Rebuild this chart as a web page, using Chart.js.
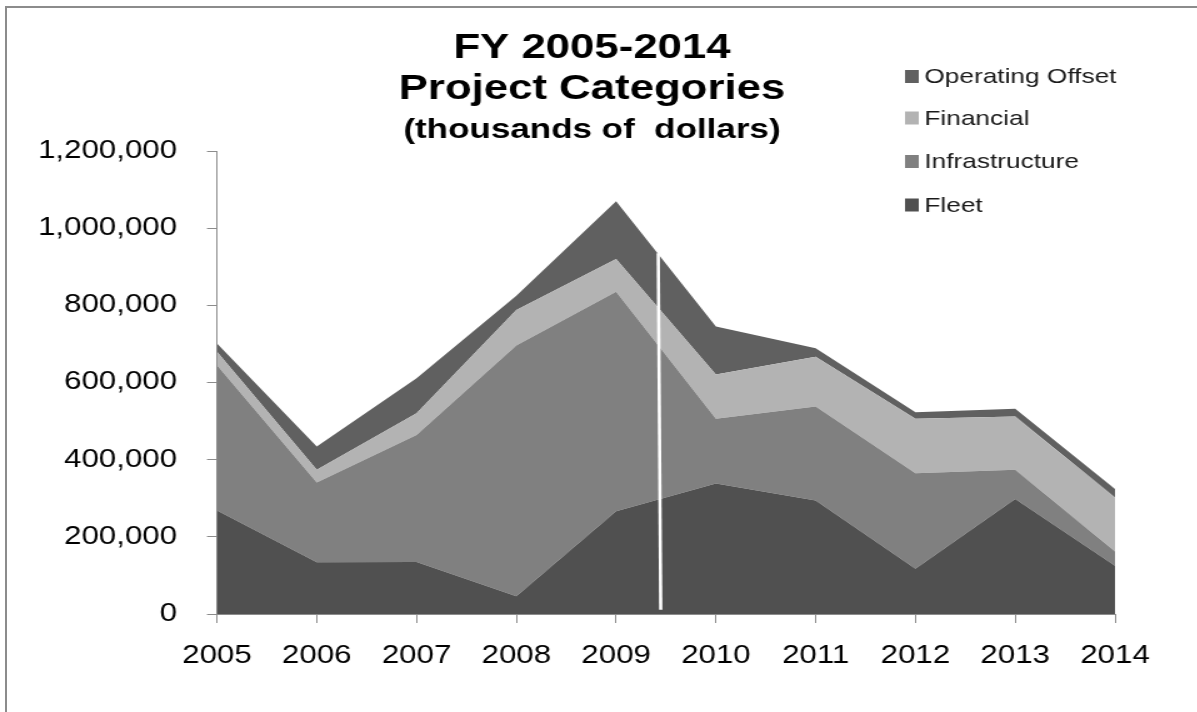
<!DOCTYPE html>
<html>
<head>
<meta charset="utf-8">
<script src="https://cdn.jsdelivr.net/npm/chart.js@4.4.1/dist/chart.umd.min.js"></script>
<style>
  html, body { margin: 0; padding: 0; background: #fff; overflow: hidden; }
  #frame { position: absolute; left: 5px; top: 6px; width: 1300px; height: 800px;
           border-left: 2px solid #8c8c8c; border-top: 2px solid #8c8c8c; }
  /* the whole chart is drawn narrow and widened 1.25x */
  #wrap { position: absolute; left: 0; top: 0; width: 958px; height: 712px;
          transform: scaleX(1.25); transform-origin: 0 0; }
</style>
</head>
<body>
<div id="frame"></div>
<div id="wrap"><canvas id="projChart" width="958" height="712"></canvas></div>
<script>
const years = ['2005', '2006', '2007', '2008', '2009', '2010', '2011', '2012', '2013', '2014'];

// thousands of dollars
const fleet          = [268000, 134000, 135000,  46000, 266000, 338000, 294000, 117000, 298000, 125000];
const infrastructure = [377000, 207000, 329000, 650000, 569000, 168000, 244000, 248000,  76000,  37000];
const financial      = [ 35000,  33000,  56000,  92000,  85000, 115000, 129000, 141000, 138000, 140000];
const operatingOffset = [21000,  60000,  91000,  37000, 150000, 124000,  22000,  17000,  20000,  22000];

const yTicks = [0, 200000, 400000, 600000, 800000, 1000000, 1200000];

// white marker line (category index, value) top -> bottom
const markerX = [4.422, 4.447];
const markerY = [935000, 11000];

const titleLines = ['FY 2005-2014', 'Project Categories'];
const subTitle = '(thousands of  dollars)';

const FONT = '"Liberation Sans", Arial, Helvetica, sans-serif';

const series = [
  { label: 'Fleet', data: fleet, color: '#505050' },
  { label: 'Infrastructure', data: infrastructure, color: '#808080' },
  { label: 'Financial', data: financial, color: '#b3b3b3' },
  { label: 'Operating Offset', data: operatingOffset, color: '#606060' }
];

const markerPlugin = {
  id: 'marker',
  afterDatasetsDraw(chart) {
    const { ctx, scales: { x, y } } = chart;
    ctx.save();
    ctx.strokeStyle = '#ffffff';
    ctx.lineWidth = 2.6;
    ctx.beginPath();
    ctx.moveTo(x.getPixelForValue(markerX[0]), y.getPixelForValue(markerY[0]));
    ctx.lineTo(x.getPixelForValue(markerX[1]), y.getPixelForValue(markerY[1]));
    ctx.stroke();
    ctx.restore();
  }
};

// titles and the legend on the right, Operating Offset on top
const labelsPlugin = {
  id: 'labels',
  afterDraw(chart) {
    const ctx = chart.ctx;
    ctx.save();
    ctx.fillStyle = '#000';
    ctx.textAlign = 'center';
    ctx.textBaseline = 'alphabetic';
    ctx.font = 'bold 35px ' + FONT;
    ctx.fillText(titleLines[0], 473.6, 58);
    ctx.fillText(titleLines[1], 473.6, 99);
    ctx.font = 'bold 28px ' + FONT;
    ctx.fillText(subTitle, 473.6, 138);

    const rows = [76.5, 118, 161.5, 205];
    const order = [3, 2, 1, 0];
    ctx.font = '21px ' + FONT;
    ctx.textAlign = 'left';
    ctx.textBaseline = 'middle';
    order.forEach((di, i) => {
      const ds = chart.data.datasets[di];
      ctx.fillStyle = ds.backgroundColor;
      ctx.fillRect(724, rows[i] - 6.5, 11, 13);
      ctx.fillStyle = '#1a1a1a';
      ctx.fillText(ds.label, 739.5, rows[i] + 1);
    });
    ctx.restore();
  }
};

new Chart(document.getElementById('projChart').getContext('2d'), {
  type: 'line',
  data: {
    labels: years,
    datasets: series.map((s, i) => ({
      label: s.label,
      data: s.data,
      backgroundColor: s.color,
      borderColor: 'rgba(0,0,0,0)',
      borderWidth: 0,
      pointRadius: 0,
      tension: 0,
      fill: i === 0 ? 'origin' : '-1'
    }))
  },
  options: {
    responsive: false,
    animation: false,
    layout: { padding: { left: 0, top: 151, right: 66, bottom: 0 } },
    plugins: {
      legend: { display: false },
      tooltip: { enabled: false }
    },
    scales: {
      x: {
        offset: false,
        grid: { drawOnChartArea: false, tickLength: 9, color: '#8c8c8c' },
        border: { color: '#8c8c8c', width: 1 },
        ticks: { padding: 18, color: '#000', font: { family: FONT, size: 25 }, maxRotation: 0 },
        afterFit(scale) { scale.height = 98; }
      },
      y: {
        stacked: true,
        min: 0,
        max: 1200000,
        afterBuildTicks(scale) { scale.ticks = yTicks.map(v => ({ value: v })); },
        grid: { drawOnChartArea: false, tickLength: 8, color: '#8c8c8c' },
        border: { color: '#8c8c8c', width: 1 },
        ticks: {
          padding: 24,
          color: '#000',
          font: { family: FONT, size: 25 },
          callback: v => v.toLocaleString('en-US')
        },
        afterFit(scale) { scale.width = 173.6; }
      }
    }
  },
  plugins: [markerPlugin, labelsPlugin]
});
</script>
</body>
</html>
